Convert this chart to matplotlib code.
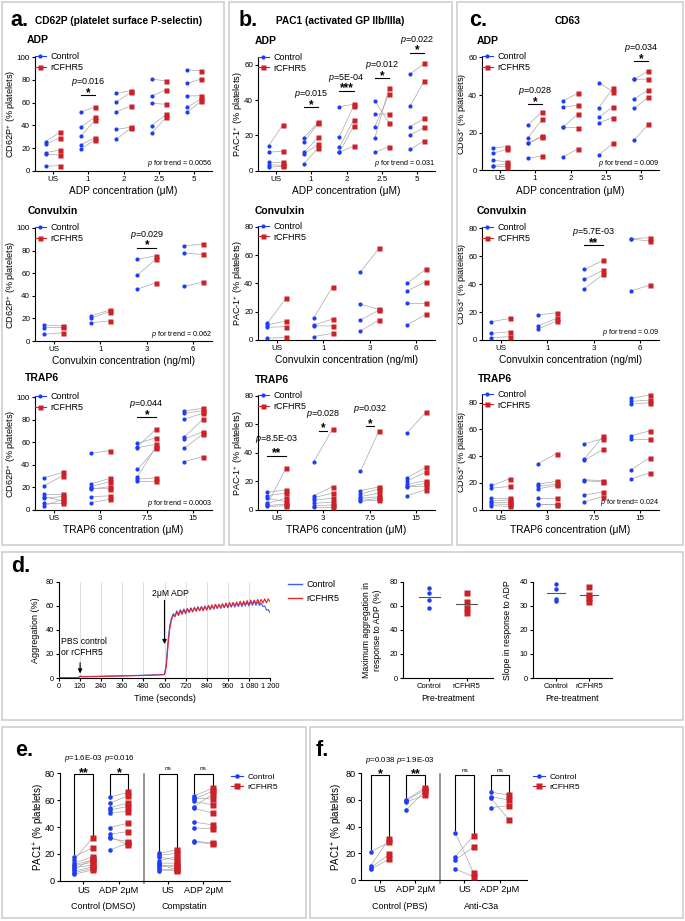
import matplotlib
matplotlib.use("Agg")
import matplotlib.pyplot as plt
import matplotlib.transforms as mtransforms
from matplotlib.lines import Line2D
from matplotlib.patches import Rectangle

plt.rcParams['font.family'] = ['Liberation Sans', 'DejaVu Sans']
plt.rcParams['mathtext.fontset'] = 'custom'
plt.rcParams['mathtext.rm'] = 'Liberation Sans'
plt.rcParams['mathtext.it'] = 'Liberation Sans:italic'
plt.rcParams['mathtext.bf'] = 'Liberation Sans:bold'

BLUE = '#1f3df2'
RED = '#cd2027'
GREY = '#a8a8a8'
BOX = '#cfcfcf'

# ---------------- data ----------------
adp_groups = ['US', '1', '2', '2.5', '5']
cvx_groups = ['US', '1', '3', '6']
trap_groups = ['US', '3', '7.5', '15']

# CD62P
cd62_adp_ctrl = [[25.6, 23.5, 16, 14.5, 4], [51.8, 38.5, 30.6, 22.9, 19.1], [68.2, 60.6, 52, 36.5, 27.7],
                 [80.9, 65.9, 59.4, 39.7, 33.2], [89, 77, 65.9, 55.9, 51.8]]
cd62_adp_rcf = [[33.9, 29, 18.2, 13.8, 4.5], [56.2, 47.6, 44.7, 29.1, 27.4], [70.6, 69, 57, 38.3, 37.5],
                [79.1, 71.4, 58.6, 49.7, 47], [88, 80.9, 66.1, 63.5, 61.2]]
cd62_cvx_ctrl = [[14.2, 11.8, 5.9], [22.1, 20.1, 16.2], [72.3, 58.4, 46], [84.4, 77.6, 48.4]]
cd62_cvx_rcf = [[13.3, 12.1, 7.4], [27.4, 26, 17.7], [75.5, 72.6, 51.6], [85.5, 76.7, 52]]
cd62_trap_ctrl = [[28.6, 21.5, 13.9, 11.8, 10.3, 6.5, 3.8], [50.1, 23, 20.6, 18.6, 11.8, 6.5, 19.5],
                  [59, 56, 55.2, 36, 29.5, 27.4, 25.7], [87.6, 85.5, 80.5, 64.3, 62.5, 54.6, 42.8]]
cd62_trap_rcf = [[33.3, 30.4, 13.9, 8, 12, 6.5, 9.5], [52.5, 28, 25, 20.6, 12.5, 9.4, 18.6],
                 [64, 71.7, 58.1, 54.6, 56, 28.5, 25.7], [90, 87.9, 85.5, 80.2, 69.3, 67, 47.2]]

# PAC-1
pac_adp_ctrl = [[14, 10.5, 5, 3.5, 2], [18.7, 16.4, 10.4, 9.5, 4], [36.3, 19.3, 13.2, 10.4, 10.4],
                [39.5, 32, 25, 18.4, 10.4], [54.8, 36.7, 25, 20.2, 12.1]]
pac_adp_rcf = [[26, 11, 5, 3, 2.5], [27.4, 26.8, 18.9, 15, 13], [37.6, 36.7, 28.7, 25.3, 14],
               [27.2, 32.1, 43.3, 46.7, 13.6], [60.8, 51, 29.7, 24.6, 17]]
pac_cvx_ctrl = [[11.8, 10.5, 9, 1.2], [15.8, 10.6, 10, 2.4], [48.2, 25.2, 14.1, 6.4], [40, 34.6, 26.3, 10.6]]
pac_cvx_rcf = [[29.4, 13.4, 9.4, 1.9], [37.6, 14.8, 9.9, 4.7], [64.7, 21.7, 21.2, 14.1], [49.9, 41.2, 26.3, 18.1]]
pac_trap_ctrl = [[3.8, 12.3, 9.9, 8, 4.5, 3, 2.3], [33.9, 9.9, 8.5, 6.8, 4.5, 2.8, 1.7],
                 [27, 13.5, 11, 9.2, 8, 6.5, 6], [53.9, 22.6, 20.3, 17.9, 16.2, 9.9, 17]]
pac_trap_rcf = [[29.2, 13.9, 11.6, 5.6, 8, 3.8, 2.7], [56.7, 16.2, 11.6, 8, 5.4, 3.3, 1.7],
                [55.7, 16, 14.6, 11.6, 9.2, 8, 6.8], [68.5, 29.7, 26.4, 20.3, 18.5, 13.9, 17]]

# CD63
cd63_adp_ctrl = [[12.1, 9.1, 5.6, 2.6, 2.2], [24.1, 17.4, 14.4, 14.4, 6.5], [37, 33.5, 23.2, 22.9, 7.3],
                 [46.5, 33.3, 28.2, 25.3, 8.2], [48.3, 48.3, 37.9, 33, 16.2]]
cd63_adp_rcf = [[12.6, 11.2, 4.5, 3.5, 2], [31.2, 27.1, 17.9, 18.3, 7.7], [40.9, 34.7, 29.8, 22.7, 11.4],
                [41.8, 43.6, 33.8, 28, 14.4], [52.9, 48.5, 42.7, 38.8, 24.5]]
cd63_cvx_ctrl = [[13.1, 4.8, 1.7], [17.9, 10, 7.9], [50.5, 43.4, 36.7], [72.6, 72.3, 35.2]]
cd63_cvx_rcf = [[15.5, 5.9, 2.4], [19.5, 15.5, 13.6], [57.1, 50, 47.1], [73.3, 70.9, 39.3]]
cd63_trap_ctrl = [[18.1, 16.1, 8.6, 6.6, 5.6, 4.3, 3], [34.5, 19.2, 17.4, 15.6, 8.6, 4.3, 3.6],
                  [49.4, 38, 37, 22.4, 21.7, 11.1, 6], [83.3, 81, 79, 55.4, 53, 30, 23]]
cd63_trap_rcf = [[23.2, 17.4, 8.6, 7.3, 5.6, 4, 2.5], [42, 21.1, 19.2, 18.1, 8.6, 3.5, 4],
                 [53.1, 55.1, 45.1, 21.7, 20.7, 13.1, 9.8], [85.8, 82, 80, 58.9, 53, 38.8, 27.5]]

# d: aggregation traces (time in s, aggregation in %)
agg_t = [0, 40, 80, 110, 120, 135, 180, 240, 300, 360, 420, 480, 540, 590, 600,
         610, 620, 630, 640, 650, 660, 670, 680, 690, 700,
         710, 720, 730, 740, 750, 760, 770, 780, 790, 800,
         810, 820, 830, 840, 850, 860, 870, 880, 890, 900,
         910, 920, 930, 940, 950, 960, 970, 980, 990, 1000,
         1010, 1020, 1030, 1040, 1050, 1060, 1070, 1080, 1090, 1100,
         1110, 1120, 1130, 1140, 1150, 1160, 1170, 1180, 1190, 1200]
agg_ctrl = [0.2, 0.3, 0.3, 0.4, 1.6, 1.2, 1.3, 1.5, 1.7, 1.9, 2.1, 2.3, 2.6, 2.9, 3.0,
            12, 31, 44, 50, 53.5, 52, 56, 53, 57, 54,
            57.5, 54.5, 58, 55, 58.5, 55.5, 59, 56, 59.5, 56,
            59.5, 56.5, 60, 57, 60.5, 57, 60.5, 57.5, 61, 58,
            61, 58, 61.5, 58.5, 62, 58.5, 62, 59, 62.5, 59,
            62.5, 59.5, 63, 59.5, 63, 60, 63.5, 60, 63.5, 60.5,
            64, 60.5, 63.5, 60.5, 62.5, 59.5, 60, 56.5, 57, 54.5]
agg_rcf = [0.1, 0.2, 0.2, 0.3, 1.3, 1.0, 1.1, 1.3, 1.5, 1.7, 1.9, 2.1, 2.4, 2.7, 2.8,
           9, 27, 41, 48.5, 52.5, 51, 55, 52, 56, 53,
           57, 53.5, 57.5, 54.5, 58, 55, 58.5, 55.5, 59, 56,
           59.5, 56, 60, 56.5, 60.5, 57, 61, 57.5, 61.5, 58,
           61.5, 58.5, 62, 58.5, 62.5, 59, 63, 59.5, 63, 60,
           63.5, 60, 64, 60.5, 64, 61, 64.5, 61, 65, 61.5,
           65, 62, 65.5, 62, 65.5, 62.5, 66, 62.5, 66, 63.5]
maxagg_ctrl = [75, 71, 65, 58]
maxagg_rcf = [71, 63, 58, 54]
slope_ctrl = [39, 37, 33, 32]
slope_rcf = [38, 34.6, 33.5, 31.8]

# e: PAC1, DMSO vs compstatin (US, ADP 2uM, US, ADP 2uM)
e_ctrl = [[17.9, 15.4, 13, 12, 11.2, 9.7, 8.5, 7.2, 6, 4.8],
          [62.2, 57.8, 54.5, 52.8, 50.8, 39.6, 34.6, 32.8, 31.5, 22.9],
          [20.4, 18.9, 17.5, 14.9, 13.1, 12.5, 11.5, 10, 8.6, 7.5],
          [63.2, 61.5, 60.9, 59, 55.2, 54, 43.6, 39.3, 29.6, 28.8]]
e_rcf = [[24.6, 32.1, 17.9, 15.4, 13.7, 11.7, 16, 10.4, 9.2, 8],
         [66, 63.2, 57.8, 55.2, 51.5, 42.8, 36.6, 26.6, 29.1, 28],
         [22.9, 20.4, 15.4, 17.9, 13, 8, 10.4, 12, 7, 9],
         [68.9, 60.9, 66.7, 56.5, 64.5, 50.3, 41.6, 38.6, 27.9, 27.4]]
e_ticks = ['US', 'ADP 2μM', 'US', 'ADP 2μM']
e_conditions = ['Control (DMSO)', 'Compstatin']

# f: PAC1, PBS vs anti-C3a
f_ctrl = [[21.2, 10.7, 9.2, 8], [60.2, 59.5, 58.6, 52.5], [35.5, 17.5, 15, 8.2], [65.8, 62.5, 61.3, 54.3]]
f_rcf = [[28.2, 30.8, 19.2, 15.7], [69, 67.5, 63.5, 66.5], [5, 33.2, 25, 2.5], [63.8, 60, 45, 55.7]]
f_conditions = ['Control (PBS)', 'Anti-C3a']

# ---------------- figure ----------------
W, H = 685, 921
fig = plt.figure(figsize=(W / 100, H / 100), dpi=100)


def px_axes(x0, y0, x1, y1, fs=5.8):
    ax = fig.add_axes([x0 / W, 1 - y1 / H, (x1 - x0) / W, (y1 - y0) / H])
    ax.spines[['top', 'right']].set_visible(False)
    ax.spines[['left', 'bottom']].set_linewidth(0.8)
    ax.tick_params(length=2, width=0.8, pad=1.5, labelsize=fs)
    ax.patch.set_alpha(0)
    return ax


def ftext(x, y, s, **kw):
    fig.text(x / W, 1 - y / H, s, **kw)


def box(x0, y0, x1, y1):
    fig.add_artist(Rectangle((x0 / W, 1 - y1 / H), (x1 - x0) / W, (y1 - y0) / H,
                             transform=fig.transFigure, fill=False, ec=BOX, lw=1.2))


def ylab(ax, text, dx, fs=6.6):
    ax.set_ylabel(text, fontsize=fs)
    w = ax.get_position().width * W
    ax.yaxis.set_label_coords(dx / w, 0.5)
    ax.yaxis.label.set_va('center')


def xlab(ax, text, dy, fs=7.3):
    ax.set_xlabel(text, fontsize=fs)
    h = ax.get_position().height * H
    ax.xaxis.set_label_coords(0.5, -dy / h)
    ax.xaxis.label.set_va('center')


def paired(ax, pos, ctrl, rcf, off=0.2, ms_c=3.0, ms_r=3.6):
    for p, cv, rv in zip(pos, ctrl, rcf):
        for a, b in zip(cv, rv):
            ax.plot([p - off, p + off], [a, b], color=GREY, lw=0.5, zorder=1, clip_on=False)
        ax.plot([p - off] * len(cv), cv, 'o', color=BLUE, ms=ms_c, mec='none', zorder=3, clip_on=False)
        ax.plot([p + off] * len(rv), rv, 's', color=RED, ms=ms_r, mec='none', zorder=3, clip_on=False)


def marker_handles(ms_c=3.0, ms_r=3.6):
    return [Line2D([], [], color=BLUE, marker='o', ms=ms_c, lw=0.8, mec='none'),
            Line2D([], [], color=RED, marker='s', ms=ms_r, lw=0.8, mec='none')]


def top_sig(ax, x, y, ptxt, stars, half=0.2, p_dy=13):
    ax.plot([x - half, x + half], [y, y], color='k', lw=0.8, clip_on=False)
    ax.annotate(stars, (x, y), xytext=(0, 1.5), textcoords='offset points', ha='center', va='center',
                fontsize=8.5, fontweight='bold', annotation_clip=False)
    ax.annotate(r'$\it{p}$=' + ptxt, (x, y), xytext=(0, p_dy * 0.72), textcoords='offset points',
                ha='center', va='center', fontsize=6.5, annotation_clip=False)


def top_plot(xr, yr, ylim, yticks, groups, ctrl, rcf, ylabel, ylab_dx, xlabel, trend=None, sigs=(), p_dy=13):
    ax = px_axes(xr[0], yr[0], xr[1], yr[1])
    n = len(groups)
    ax.set_xlim(-0.5, 4.5) if n == 5 else ax.set_xlim(-0.4, 3.4)
    ax.set_ylim(*ylim)
    ax.set_yticks(yticks)
    ax.set_xticks(range(n), groups)
    paired(ax, range(n), ctrl, rcf)
    ylab(ax, ylabel, ylab_dx)
    xlab(ax, xlabel, 20)
    h = yr[1] - yr[0]
    ax.legend(marker_handles(), ['Control', 'rCFHR5'], loc='upper left', bbox_to_anchor=(0, 1 + 5 / h),
              frameon=False, fontsize=6.5, handlelength=1.2, handletextpad=0.5, labelspacing=0.2,
              borderaxespad=0, borderpad=0)
    if trend:
        ax.text(1.0, 7 / h, r'$\it{p}$ for trend' + trend, transform=ax.transAxes, ha='right', va='center',
                fontsize=5.2)
    for s in sigs:
        top_sig(ax, *s, p_dy=p_dy)
    return ax


# panel boxes
box(2, 2, 224, 545)
box(229, 2, 452, 545)
box(457, 2, 683, 545)
box(2, 552, 683, 720)
box(2, 727, 306, 918)
box(310, 727, 683, 918)

# headers
ftext(10, 20, 'a.', fontsize=15.5, fontweight='bold', va='center')
ftext(35, 21, 'CD62P (platelet surface P-selectin)', fontsize=7.3, fontweight='bold', va='center')
ftext(239, 20, 'b.', fontsize=15.5, fontweight='bold', va='center')
ftext(276, 21.5, 'PAC1 (activated GP IIb/IIIa)', fontsize=7.3, fontweight='bold', va='center')
ftext(469, 20, 'c.', fontsize=15.5, fontweight='bold', va='center')
ftext(568, 21.5, 'CD63', fontsize=7.3, fontweight='bold', va='center', ha='center')

for x, y, s in [(27, 40, 'ADP'), (255, 41, 'ADP'), (477, 41, 'ADP'),
                (28, 211, 'Convulxin'), (255, 211, 'Convulxin'), (477, 211, 'Convulxin'),
                (25, 378, 'TRAP6'), (255, 380, 'TRAP6'), (478, 379, 'TRAP6')]:
    ftext(x, y, s, fontsize=7.5, fontweight='bold', va='center')

AX, BX, CX = (35, 212), (258, 435), (482, 659)
adp_lab = 'ADP concentration (μM)'
cvx_lab = 'Convulxin concentration (ng/ml)'
trap_lab = 'TRAP6 concentration (μM)'
cd62_lab = 'CD62P$^{+}$ (% platelets)'
pac_lab = 'PAC-1$^{+}$ (% platelets)'
cd63_lab = 'CD63$^{+}$ (% platelets)'

top_plot(AX, (57.3, 170.7), (0, 100), range(0, 101, 20), adp_groups, cd62_adp_ctrl, cd62_adp_rcf,
         cd62_lab, -24, adp_lab, ' = 0.0056', [(1, 66.8, '0.016', '*')])
top_plot(AX, (228, 341), (0, 100), range(0, 101, 20), cvx_groups, cd62_cvx_ctrl, cd62_cvx_rcf,
         cd62_lab, -24, cvx_lab, ' = 0.062', [(2, 82.6, '0.029', '*')])
top_plot(AX, (397, 510), (0, 100), range(0, 101, 20), trap_groups, cd62_trap_ctrl, cd62_trap_rcf,
         cd62_lab, -24, trap_lab, ' = 0.0003', [(2, 82, '0.044', '*')])

top_plot(BX, (57.7, 170.7), (0, 64), [0, 20, 40, 60], adp_groups, pac_adp_ctrl, pac_adp_rcf,
         pac_lab, -20, adp_lab, ' = 0.031',
         [(1, 35.9, '0.015', '*'), (2, 45.3, '5E-04', '***'), (3, 52.4, '0.012', '*'), (4, 66.9, '0.022', '*')])
top_plot(BX, (226.7, 340), (0, 80), range(0, 81, 20), cvx_groups, pac_cvx_ctrl, pac_cvx_rcf,
         pac_lab, -20, cvx_lab)
top_plot(BX, (396, 509.7), (0, 80), range(0, 81, 20), trap_groups, pac_trap_ctrl, pac_trap_rcf,
         pac_lab, -20, trap_lab, None,
         [(0, 38.1, '8.5E-03', '**'), (1, 55.7, '0.028', '*', 0.085), (2, 58.6, '0.032', '*', 0.085)], p_dy=17)

top_plot(CX, (57.3, 170.5), (0, 60), [0, 20, 40, 60], adp_groups, cd63_adp_ctrl, cd63_adp_rcf,
         cd63_lab, -20, adp_lab, ' = 0.009', [(1, 35.2, '0.028', '*'), (4, 58, '0.034', '*')])
top_plot(CX, (228.3, 340), (0, 80), range(0, 81, 20), cvx_groups, cd63_cvx_ctrl, cd63_cvx_rcf,
         cd63_lab, -20, cvx_lab, ' = 0.09', [(2, 67.9, '5.7E-03', '**')])
top_plot(CX, (394.7, 509.7), (0, 86), range(0, 81, 20), trap_groups, cd63_trap_ctrl, cd63_trap_rcf,
         cd63_lab, -20, trap_lab, '= 0.024')

# ---------------- d ----------------
ftext(11, 566, 'd.', fontsize=15.5, fontweight='bold', va='center')
ax = px_axes(59, 582, 270, 678, fs=5.3)
ax.set_xlim(0, 1200)
ax.set_ylim(0, 80)
ax.set_yticks(range(0, 81, 20))
xt = list(range(0, 1201, 120))
ax.set_xticks(xt, [str(v) if v < 1000 else f'{v // 1000} {v % 1000:03d}' for v in xt])
for v in xt[1:]:
    ax.axvline(v, color='#d9d9d9', lw=0.6, zorder=0)
ax.plot(agg_t, agg_ctrl, color='#3a5cff', lw=0.8, zorder=2)
ax.plot(agg_t, agg_rcf, color='#e0282d', lw=0.8, zorder=3)
ylab(ax, 'Aggregation (%)', -23, fs=6.5)
xlab(ax, 'Time (seconds)', 20, fs=6.5)
ax.annotate('', xy=(120, 1.5), xytext=(120, 15),
            arrowprops=dict(arrowstyle='-|>', color='k', lw=0.8, mutation_scale=6))
ax.annotate('', xy=(600, 26), xytext=(600, 67),
            arrowprops=dict(arrowstyle='-|>', color='k', lw=0.8, mutation_scale=6))
ftext(61, 647, 'PBS control\nor rCFHR5', fontsize=6.2, va='center', linespacing=1.15)
ftext(152, 593, '2μM ADP', fontsize=6.2, va='center')
fig.legend([Line2D([], [], color='#3a5cff', lw=1), Line2D([], [], color='#e0282d', lw=1)],
           ['Control', 'rCFHR5'], loc='upper left', bbox_to_anchor=(288 / W, 1 - 580 / H),
           frameon=False, fontsize=6.5, handlelength=1.5, handletextpad=0.5, labelspacing=0.55,
           borderaxespad=0, borderpad=0)

for (x0, x1), ctrl, rcf, ymax, yt, lab, dx in [
        ((403, 493), maxagg_ctrl, maxagg_rcf, 80, range(0, 81, 20),
         'Maximum aggregation in\nresponse to ADP (%)', -31),
        ((533, 612), slope_ctrl, slope_rcf, 40, range(0, 41, 10), 'Slope in response to ADP', -25)]:
    ax = px_axes(x0, 582, x1, 678, fs=5.5)
    ax.set_xlim(-0.7, 1.7)
    ax.set_ylim(0, ymax)
    ax.set_yticks(yt)
    ax.set_xticks([0, 1], ['Control', 'rCFHR5'])
    ax.plot([0] * len(ctrl), ctrl, 'o', color=BLUE, ms=3.2, mec='none', clip_on=False)
    ax.plot([1] * len(rcf), rcf, 's', color=RED, ms=3.8, mec='none', clip_on=False)
    for p, v in [(0, ctrl), (1, rcf)]:
        ax.plot([p - 0.28, p + 0.28], [sum(v) / len(v)] * 2, color='#555555', lw=0.8)
    ylab(ax, lab, dx, fs=6.3)
    xlab(ax, 'Pre-treatment', 20, fs=6.3)

# ---------------- e / f ----------------
POS = [0, 1, 2.38, 3.38]


def bracket(ax, x0, x1, top, lo0, lo1, stars, ptxt=None):
    ax.plot([x0, x0, x1, x1], [lo0, top, top, lo1], color='k', lw=0.8, clip_on=False)
    if stars == 'ns':
        ax.annotate('ns', ((x0 + x1) / 2, top), xytext=(0, 3.6), textcoords='offset points',
                    ha='center', va='center', fontsize=4.6, annotation_clip=False)
    else:
        ax.annotate(stars, ((x0 + x1) / 2, top), xytext=(0, 0.6), textcoords='offset points',
                    ha='center', va='center', fontsize=9, fontweight='bold', annotation_clip=False)
    if ptxt:
        ax.annotate(r'$\it{p}$=' + ptxt, ((x0 + x1) / 2, top), xytext=(0, 10.8), textcoords='offset points',
                    ha='center', va='center', fontsize=5.7, annotation_clip=False)


def ef_plot(xr, yr, xlim, ctrl, rcf, conditions, top, sigs, letter, letter_x, leg_x, lab_dx):
    ax = px_axes(xr[0], yr[0], xr[1], yr[1], fs=6.6)
    ax.set_xlim(*xlim)
    ax.set_ylim(0, 80)
    ax.set_yticks(range(0, 81, 20))
    ax.set_xticks(POS, e_ticks)
    off = 0.26
    paired(ax, POS, ctrl, rcf, off=off, ms_c=3.3, ms_r=4.2)
    ax.plot([1.7, 1.7], [-2, 79.5], color='#8c8c8c', lw=1.3, clip_on=False)
    for p, cv, rv, (st, pt) in zip(POS, ctrl, rcf, sigs):
        bracket(ax, p - off, p + off, top, max(cv) + 2, max(rv) + 2, st, pt)
    tr = mtransforms.blended_transform_factory(ax.transData, fig.transFigure)
    ax.text(0.55, 1 - 906.5 / H, conditions[0], transform=tr, ha='center', va='center', fontsize=6.5)
    ax.text(2.85, 1 - 906.5 / H, conditions[1], transform=tr, ha='center', va='center', fontsize=6.5)
    ylab(ax, 'PAC1$^{+}$ (% platelets)', lab_dx, fs=7)
    fig.legend(marker_handles(3.3, 4.2), ['Control', 'rCFHR5'], loc='upper left',
               bbox_to_anchor=(leg_x / W, 1 - 773.5 / H), frameon=False, fontsize=6,
               handlelength=1.4, handletextpad=0.6, labelspacing=0.25, borderaxespad=0, borderpad=0)
    ftext(letter_x, 750, letter, fontsize=15.5, fontweight='bold', va='center')
    return ax


ef_plot((60, 230), (773.3, 880.7), (-0.66, 4.13), e_ctrl, e_rcf, e_conditions, 79.8,
        [('**', '1.6E-03'), ('*', '0.016'), ('ns', None), ('ns', None)], 'e.', 15, 231, -21)
ef_plot((360.7, 526.7), (773.3, 880), (-0.54, 4.13), f_ctrl, f_rcf, f_conditions, 78.5,
        [('*', '0.038'), ('**', '1.9E-03'), ('ns', None), ('ns', None)], 'f.', 316, 533, -23)

fig.savefig('out.png', dpi=100)
